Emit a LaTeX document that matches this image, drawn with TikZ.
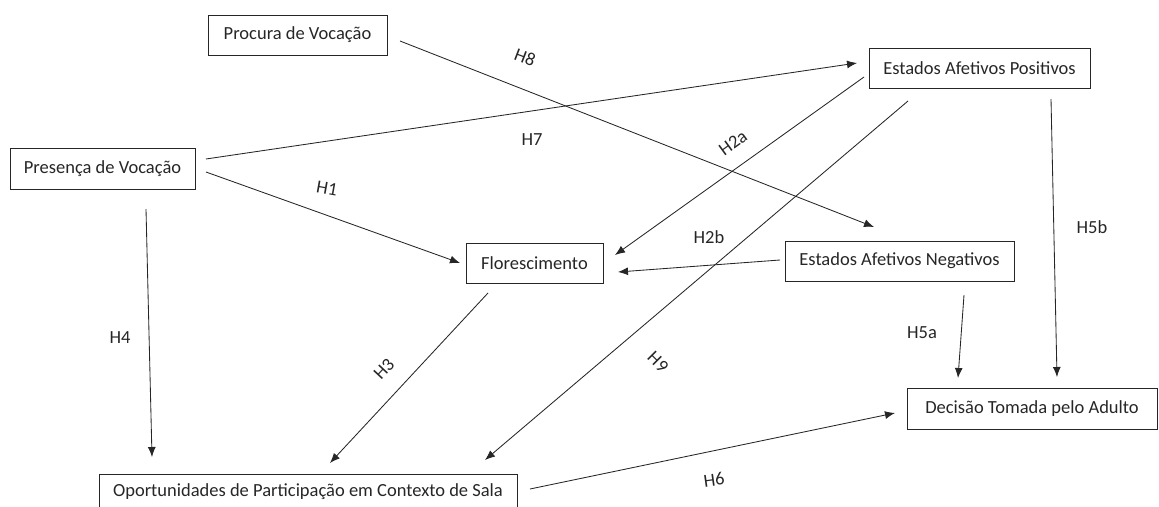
\documentclass[tikz,border=0pt]{standalone}
\usepackage{fontspec}
\setmainfont{Carlito}
\usetikzlibrary{arrows.meta}
\begin{document}
\begin{tikzpicture}[x=1pt,y=-1pt,
  box/.style={draw=black!85,line width=0.9pt,rectangle,inner sep=0pt,font=\fontsize{18.5}{22}\selectfont,text=black!85},
  conn/.style={draw=black!85,line width=0.85pt,-{Latex[length=10pt,width=8pt]}},
  lab/.style={font=\fontsize{18.5}{22}\selectfont,text=black!85,inner sep=0pt}]
\useasboundingbox (0,0) rectangle (1159,506);
% boxes
\node[box,minimum width=179pt,minimum height=40pt] (proc) at (297.5,35) {Procura de Vocação};
\node[box,minimum width=185pt,minimum height=41pt] (pres) at (102.5,168.5) {Presença de Vocação};
\node[box,minimum width=221pt,minimum height=40pt] (pos) at (979.5,68) {Estados Afetivos Positivos};
\node[box,minimum width=229pt,minimum height=40pt] (neg) at (899.5,261) {Estados Afetivos Negativos};
\node[box,minimum width=137pt,minimum height=40pt] (flor) at (534.5,263) {Florescimento};
\node[box,minimum width=418pt,minimum height=41pt,anchor=north] (op) at (308,474) {};
\node[font=\fontsize{18.5}{22}\selectfont,text=black!85,inner sep=0pt] (optext) at (308,492) {Oportunidades de Participação em Contexto de Sala};
\node[box,minimum width=250pt,minimum height=41pt] (dec) at (1032,408.5) {Decisão Tomada pelo Adulto};
% connector ends
\coordinate (h8s) at (400,41);   \coordinate (h8e) at (874,227);
\coordinate (h7s) at (206,159);  \coordinate (h7e) at (857,63);
\coordinate (h1s) at (206,172);  \coordinate (h1e) at (460,263);
\coordinate (h4s) at (146,209);  \coordinate (h4e) at (152,457);
\coordinate (h2as) at (864,77);  \coordinate (h2ae) at (615,255);
\coordinate (h2bs) at (780,260); \coordinate (h2be) at (618,272);
\coordinate (h3s) at (488,293);  \coordinate (h3e) at (330,463);
\coordinate (h9s) at (908,101);  \coordinate (h9e) at (485,460);
\coordinate (h5bs) at (1051,99); \coordinate (h5be) at (1057,377);
\coordinate (h5as) at (964,295); \coordinate (h5ae) at (958,378);
\coordinate (h6s) at (530,489);  \coordinate (h6e) at (895,413);
% connectors
\draw[conn] (h8s) -- (h8e);
\draw[conn] (h7s) -- (h7e);
\draw[conn] (h1s) -- (h1e);
\draw[conn] (h4s) -- (h4e);
\draw[conn] (h2as) -- (h2ae);
\draw[conn] (h2bs) -- (h2be);
\draw[conn] (h3s) -- (h3e);
\draw[conn] (h9s) -- (h9e);
\draw[conn] (h5bs) -- (h5be);
\draw[conn] (h5as) -- (h5ae);
\draw[conn] (h6s) -- (h6e);
% labels
\node[lab,rotate=-21] (l8) at (525,57) {H8};
\node[lab] (l7) at (532,140) {H7};
\node[lab,rotate=-10] (l1) at (327,188) {H1};
\node[lab,rotate=36] (l2a) at (733,143) {H2a};
\node[lab] (l2b) at (709,237) {H2b};
\node[lab] (l4) at (120,338) {H4};
\node[lab,rotate=47] (l3) at (384,369) {H3};
\node[lab,rotate=-45] (l9) at (658,362) {H9};
\node[lab] (l5a) at (922,333) {H5a};
\node[lab] (l5b) at (1092,227) {H5b};
\node[lab,rotate=8] (l6) at (714,480) {H6};
\end{tikzpicture}
\end{document}
